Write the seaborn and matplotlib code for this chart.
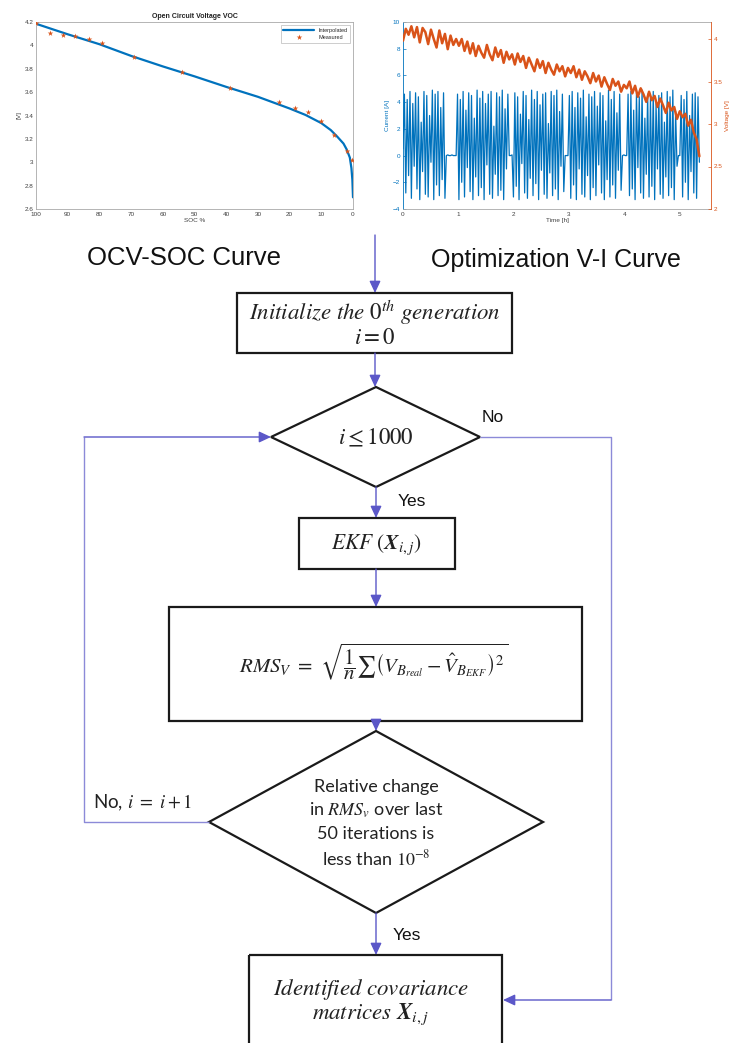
import numpy as np
import pandas as pd
import matplotlib
matplotlib.use("Agg")
import matplotlib.pyplot as plt
from matplotlib.patches import Polygon, Rectangle
import seaborn as sns

# ---------------- data ----------------
soc_measured = [100, 95.5, 91.5, 87.6, 83.4, 79.3, 69.2, 53.8, 38.7, 23.4, 18.4, 14.1, 10.2, 6.1, 2.0, 0.2]
v_measured = [4.19, 4.11, 4.09, 4.08, 4.057, 4.02, 3.90, 3.77, 3.635, 3.515, 3.46, 3.43, 3.35, 3.23, 3.10, 3.02]

soc_interp = [100, 90, 80, 70, 60, 50, 40, 30, 20, 15, 10, 7, 5, 3, 2, 1, 0.5, 0.2, 0]
v_interp = [4.185, 4.095, 4.01, 3.91, 3.82, 3.735, 3.645, 3.56, 3.46, 3.405, 3.335, 3.275,
            3.22, 3.16, 3.11, 3.04, 2.95, 2.85, 2.70]

current_a = [
    0.5, 4.6, -2.8, 4.2, -1.5, 4.8, -3.2, 3.9, -0.8, 4.7, -2.5, 4.4, -3.3, 2.5, -1.2, 4.8,
    -2.9, 4.5, -3.1, 3.0, -0.5, 4.9, -3.3, 4.6, -2.2, 4.8, -3.0, 3.6, -1.8, 4.7, -3.2,
    0.0, 0.05, 0.0, 0.0, 0.05, 0.0, 0.0, 0.0,
    4.6, -3.3, 4.2, -2.0, 4.8, -3.1, 3.4, -0.9, 4.7, -2.7, 4.5, -3.3, 2.8, -1.6, 4.9, -3.0,
    4.3, -2.4, 4.8, -3.3, 3.9, -0.7, 4.6, -2.9, 4.8, -3.2, 2.2, -1.4, 4.7, -3.0, 4.4, -2.6,
    4.9, -3.3, 3.5, -1.0, 4.6,
    0.0, 0.0, 0.05,
    -3.1, 4.7, -2.3, 4.4, -3.3, 3.1, -0.6, 4.8, -2.8, 4.5, -3.2, 2.7, -1.7, 4.9, -3.0, 4.2,
    -2.1, 4.8, -3.3, 3.8, -1.1, 4.6, -2.9, 4.7, -3.2, 2.4, -1.3, 4.8, -3.0, 4.5, -2.5, 4.9,
    -3.3, 3.3, -0.8, 4.6, -2.7,
    0.0, 0.0, 0.0,
    4.5, -3.2, 4.8, -2.2, 3.6, -3.3, 4.7, -1.0, 4.3, -2.9, 4.9, -3.1, 2.9, -1.5, 4.6, -3.3,
    4.4, -2.4, 4.8, -3.0, 3.7, -0.7, 4.7, -2.8, 4.5, -3.3, 2.6, -1.8, 4.9, -3.1, 4.2, -2.2,
    4.8, -3.2, 3.2, -1.1, 4.6, -2.6,
    0.0, 0.05, 0.0, 0.0,
    4.6, -3.0, 4.8, -2.5, 3.4, -3.3, 4.7, -0.9, 4.4, -2.8, 4.9, -3.2, 2.8, -1.4, 4.6, -3.1,
    4.3, -2.3, 4.8, -3.3, 3.9, -1.0, 4.5, -2.9, 4.7, -3.2, 2.5, -1.6, 4.8, -3.0, 4.4, -2.4,
    4.9, -3.3, 3.3, -0.8,
    0.0, 0.0,
    4.5, -3.1, 4.2, -2.0, 4.8, -3.3, 3.0, -1.2, 4.6, -2.8, 4.7, -3.2, 4.4, -0.5,
]

voltage_v = [
    3.98, 4.12, 4.05, 4.15, 4.02, 4.14, 3.96, 4.13, 4.08, 3.94, 4.11, 4.00, 3.90, 4.10, 3.95, 4.06, 3.88, 4.04, 3.93, 4.00,
    3.92, 4.00, 3.86, 3.97, 3.83, 3.95, 3.80, 3.92, 3.84, 3.78, 3.93, 3.82, 3.75, 3.90, 3.79, 3.87, 3.72, 3.85, 3.76, 3.82,
    3.70, 3.83, 3.73, 3.80, 3.66, 3.78, 3.70, 3.62, 3.76, 3.66, 3.74, 3.60, 3.72, 3.64, 3.58, 3.70, 3.62, 3.68, 3.56, 3.66,
    3.60, 3.68, 3.55, 3.64, 3.52, 3.62, 3.56, 3.48, 3.60, 3.50, 3.57, 3.44, 3.55, 3.47, 3.40, 3.53, 3.45, 3.50, 3.38, 3.46,
    3.42, 3.50, 3.36, 3.45, 3.32, 3.42, 3.35, 3.26, 3.38, 3.28, 3.33, 3.20, 3.30, 3.22, 3.13, 3.25, 3.16, 3.20, 3.06, 3.15,
    3.08, 3.12, 2.98, 3.05, 2.90, 2.82, 2.62,
]
end_time_h = 5.36

soc_ticks = [100, 90, 80, 70, 60, 50, 40, 30, 20, 10, 0]
v_ticks = [2.6, 2.8, 3.0, 3.2, 3.4, 3.6, 3.8, 4.0, 4.2]
v_ticklabels = ["2.6", "2.8", "3", "3.2", "3.4", "3.6", "3.8", "4", "4.2"]
t_ticks = [0, 1, 2, 3, 4, 5]
i_ticks = [-4, -2, 0, 2, 4, 6, 8, 10]
v2_ticks = [2, 2.5, 3, 3.5, 4]
v2_ticklabels = ["2", "2.5", "3", "3.5", "4"]

# ---------------- style ----------------
sns.set_theme(style="white")
plt.rcParams["font.family"] = ["Liberation Sans", "DejaVu Sans"]
plt.rcParams["mathtext.fontset"] = "stix"

W, H = 734, 1043
fig = plt.figure(figsize=(W / 100, H / 100), dpi=100)
fig.patch.set_facecolor("white")

def fax(x0, y0, x1, y1):
    return [x0 / W, 1 - y1 / H, (x1 - x0) / W, (y1 - y0) / H]

BLUE = "#0072BD"
ORANGE = "#D95319"
GRID = "#a8a8a8"
TXT = "#404040"
TS = 4.6

# ---------------- flowchart overlay ----------------
fl = fig.add_axes([0, 0, 1, 1], zorder=0)
fl.set_xlim(0, W)
fl.set_ylim(H, 0)
fl.axis("off")

LC = "#8c8ad8"
AC = "#5b57c8"
SANS2 = ["Lato", "DejaVu Sans"]

def arrow(x0, y0, x1, y1):
    fl.annotate("", xy=(x1, y1), xytext=(x0, y0),
                arrowprops=dict(arrowstyle="-|>,head_length=0.6,head_width=0.28",
                                color=LC, lw=1.0, shrinkA=0, shrinkB=0,
                                fc=AC, ec=AC))

def line(xs, ys):
    fl.plot(xs, ys, color=LC, lw=1.0, solid_capstyle="butt")

def box(x0, y0, x1, y1):
    fl.add_patch(Rectangle((x0, y0), x1 - x0, y1 - y0, fill=False, ec="#1a1a1a", lw=1.6))

def diamond(cx, top, left, right, bottom, cy):
    fl.add_patch(Polygon([(cx, top), (right, cy), (cx, bottom), (left, cy)], closed=True,
                         fill=False, ec="#1a1a1a", lw=1.6))

fl.text(184, 258, "OCV-SOC Curve", ha="center", va="center", fontsize=18.5, color="#111111")
fl.text(556, 260, "Optimization V-I Curve", ha="center", va="center", fontsize=18, color="#111111")

arrow(375, 235, 375, 293)
box(237, 293, 512, 353)
fl.text(375, 313, r"$Initialize\ the\ 0^{th}\ generation$", ha="center", va="center", fontsize=16.5, color="#222222")
fl.text(375, 338, r"$i = 0$", ha="center", va="center", fontsize=16.5, color="#222222")

arrow(375, 353, 375, 387)
diamond(376, 387, 271, 480, 487, 437)
fl.text(376, 438, r"$i \leq 1000$", ha="center", va="center", fontsize=16.5, color="#222222")
fl.text(493, 418, "No", ha="center", va="center", fontsize=12.5, color="#111111")
line([480, 611, 611], [437, 437, 1000])
arrow(611, 1000, 503, 1000)

arrow(376, 487, 376, 518)
fl.text(412, 502, "Yes", ha="center", va="center", fontsize=12.5, color="#111111")
box(299, 518, 455, 569)
fl.text(377, 545, r"$EKF\ (\boldsymbol{X}_{i,j})$", ha="center", va="center", fontsize=15.5, color="#222222")

arrow(376, 569, 376, 607)
box(169, 607, 582, 721)
fl.text(374, 662,
        r"$RMS_V\ =\ \sqrt{\dfrac{1}{n}\sum\left(V_{B_{real}}-\hat{V}_{B_{EKF}}\right)^2}$",
        ha="center", va="center", fontsize=15, color="#222222")

arrow(376, 721, 376, 731)
diamond(376, 731, 209, 543, 913, 822)
diamond_lines = ["Relative change", r"in $RMS_v$ over last", "50 iterations is", r"less than $10^{-8}$"]
for k, s in enumerate(diamond_lines):
    fl.text(376, 787 + k * 23.7, s, ha="center", va="center", fontsize=13,
            family=SANS2, color="#222222")
fl.text(93, 803, r"No, $i\ =\ i+1$", ha="left", va="center", fontsize=13.5,
        family=SANS2, color="#222222")
line([209, 84, 84], [822, 822, 437])
arrow(84, 437, 271, 437)

arrow(376, 913, 376, 955)
fl.text(407, 935, "Yes", ha="center", va="center", fontsize=12.5, color="#111111")
box(249, 955, 502, 1060)
fl.text(371, 990, r"$Identified\ covariance$", ha="center", va="center", fontsize=16.5, color="#222222")
fl.text(371, 1014, r"$matrices\ \boldsymbol{X}_{i,j}$", ha="center", va="center", fontsize=16.5, color="#222222")

# ---------------- left chart: OCV-SOC ----------------
def matlab_axes(ax):
    ax.set_facecolor("white")
    for sp in ax.spines.values():
        sp.set_color(GRID)
        sp.set_linewidth(0.6)
        sp.set_visible(True)
    ax.tick_params(direction="in", length=2, width=0.5, colors=GRID, labelsize=TS,
                   labelcolor=TXT, pad=2)

ax1 = fig.add_axes(fax(36, 22, 353, 209), zorder=2)
matlab_axes(ax1)
df_i = pd.DataFrame({"SOC": soc_interp, "V": v_interp})
df_m = pd.DataFrame({"SOC": soc_measured, "V": v_measured})
sns.lineplot(data=df_i, x="SOC", y="V", ax=ax1, color=BLUE, lw=1.6, label="Interpolated",
             sort=False, estimator=None)
sns.scatterplot(data=df_m, x="SOC", y="V", ax=ax1, color=ORANGE, marker="*", s=18,
                linewidth=0, label="Measured", zorder=3)
ax1.set_xlim(100, 0)
ax1.set_ylim(2.6, 4.2)
ax1.set_xticks(soc_ticks)
ax1.set_xticklabels([str(t) for t in soc_ticks])
ax1.set_yticks(v_ticks)
ax1.set_yticklabels(v_ticklabels)
ax1.set_xlabel("SOC %", fontsize=TS, color=TXT, labelpad=1)
ax1.set_ylabel("[V]", fontsize=TS, color=TXT, labelpad=2)
ax1.set_title("Open Circuit Voltage VOC", fontsize=5, fontweight="bold", color="#222222", pad=3)
leg = ax1.legend(loc="upper right", fontsize=4, frameon=True, handlelength=5.5,
                 borderpad=0.5, labelspacing=0.4, fancybox=False)
leg.get_frame().set_edgecolor(GRID)
leg.get_frame().set_linewidth(0.5)

# ---------------- right chart: V-I ----------------
ax2 = fig.add_axes(fax(403, 22, 711, 209), zorder=2)
matlab_axes(ax2)
df_c = pd.DataFrame({"t": np.linspace(0, end_time_h, len(current_a)), "I": current_a})
sns.lineplot(data=df_c, x="t", y="I", ax=ax2, color=BLUE, lw=0.9, sort=False, estimator=None)
ax2.set_xlim(0, 5.57)
ax2.set_ylim(-4, 10)
ax2.set_xticks(t_ticks)
ax2.set_yticks(i_ticks)
ax2.tick_params(axis="y", colors=BLUE, labelcolor=BLUE)
ax2.spines["left"].set_color(BLUE)
ax2.set_xlabel("Time [h]", fontsize=TS, color=TXT, labelpad=1)
ax2.set_ylabel("Current [A]", fontsize=TS, color=BLUE, labelpad=2)

ax3 = ax2.twinx()
df_v = pd.DataFrame({"t": np.linspace(0, end_time_h, len(voltage_v)), "V": voltage_v})
sns.lineplot(data=df_v, x="t", y="V", ax=ax3, color=ORANGE, lw=1.8, sort=False, estimator=None)
ax3.set_ylim(2, 4.2)
ax3.set_yticks(v2_ticks)
ax3.set_yticklabels(v2_ticklabels)
ax3.tick_params(axis="y", direction="in", length=2, width=0.5, colors=ORANGE,
                labelcolor=ORANGE, labelsize=TS, pad=2)
for sp in ax3.spines.values():
    sp.set_visible(False)
ax3.spines["right"].set_visible(True)
ax3.spines["right"].set_color(ORANGE)
ax3.spines["right"].set_linewidth(0.6)
ax3.set_ylabel("Voltage [V]", fontsize=TS, color=ORANGE, labelpad=2)
ax2.spines["right"].set_visible(False)

fig.savefig("out.png", dpi=100, facecolor="white")
